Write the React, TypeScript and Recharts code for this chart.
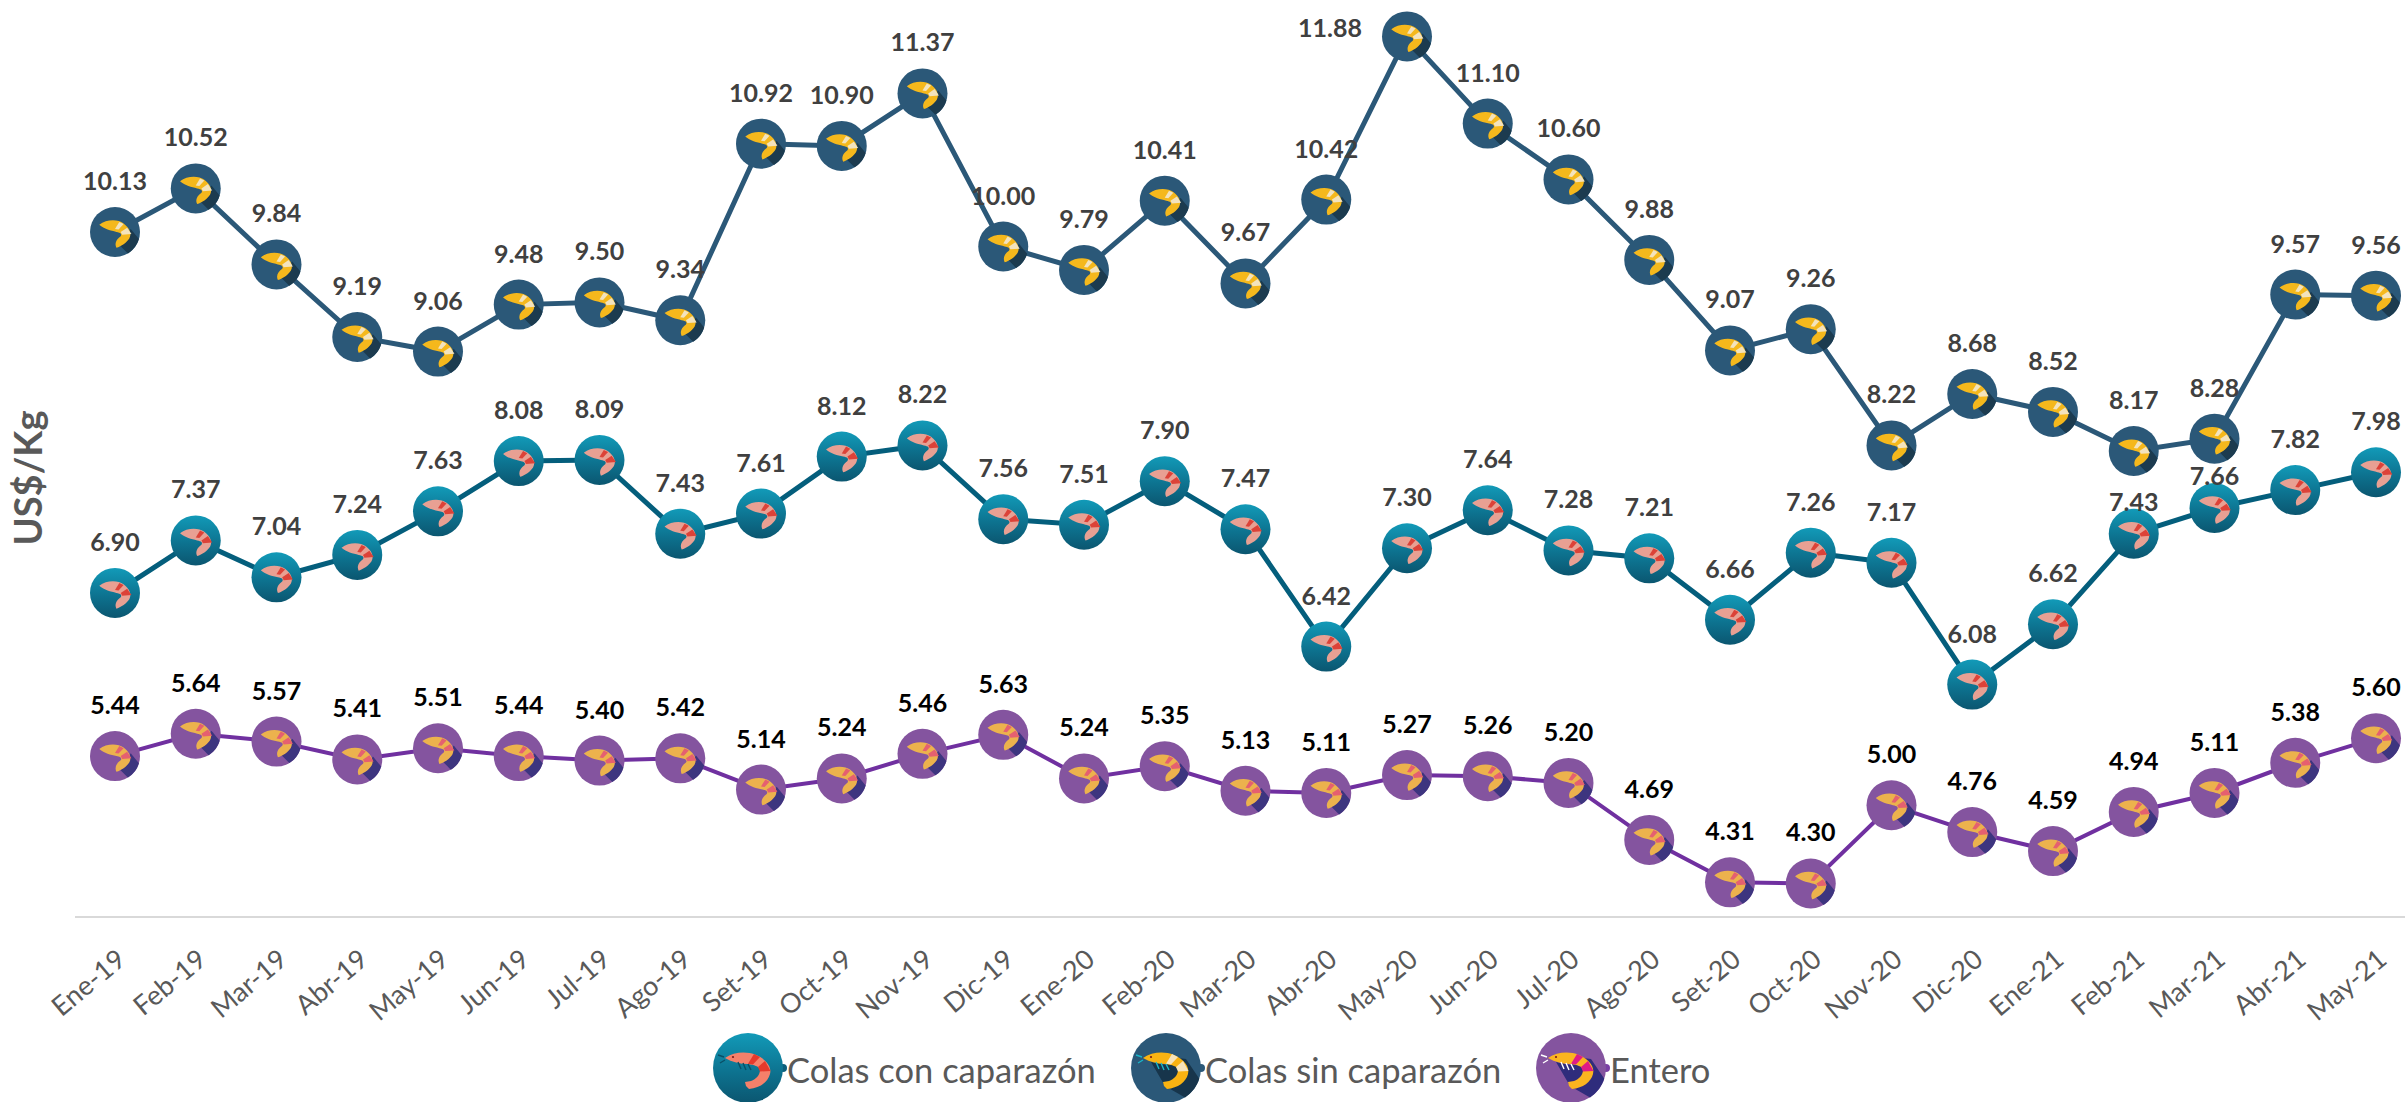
import { Legend, Line, LineChart, XAxis, YAxis } from "recharts";

const months = [
  "Ene-19", "Feb-19", "Mar-19", "Abr-19", "May-19", "Jun-19", "Jul-19", "Ago-19", "Set-19", "Oct-19",
  "Nov-19", "Dic-19", "Ene-20", "Feb-20", "Mar-20", "Abr-20", "May-20", "Jun-20", "Jul-20", "Ago-20",
  "Set-20", "Oct-20", "Nov-20", "Dic-20", "Ene-21", "Feb-21", "Mar-21", "Abr-21", "May-21",
];
const colasCon = [
  6.9, 7.37, 7.04, 7.24, 7.63, 8.08, 8.09, 7.43, 7.61, 8.12, 8.22, 7.56, 7.51, 7.9, 7.47,
  6.42, 7.3, 7.64, 7.28, 7.21, 6.66, 7.26, 7.17, 6.08, 6.62, 7.43, 7.66, 7.82, 7.98,
];
const colasSin = [
  10.13, 10.52, 9.84, 9.19, 9.06, 9.48, 9.5, 9.34, 10.92, 10.9, 11.37, 10.0, 9.79, 10.41, 9.67,
  10.42, 11.88, 11.1, 10.6, 9.88, 9.07, 9.26, 8.22, 8.68, 8.52, 8.17, 8.28, 9.57, 9.56,
];
const entero = [
  5.44, 5.64, 5.57, 5.41, 5.51, 5.44, 5.4, 5.42, 5.14, 5.24, 5.46, 5.63, 5.24, 5.35, 5.13,
  5.11, 5.27, 5.26, 5.2, 4.69, 4.31, 4.3, 5.0, 4.76, 4.59, 4.94, 5.11, 5.38, 5.6,
];

const data = months.map((month, i) => ({ month, con: colasCon[i], sin: colasSin[i], entero: entero[i] }));

const FONT = "Lato, sans-serif";

const palettes: Record<string, any> = {
  "Colas con caparazón": {
    bg: "url(#bgCon)", dot: "#0c5f7c", body: "#f5806a", band: "#e5392c", shadow: null, leg: "#0a4f66",
    smallBody: "#e8a093", smallBand: "#dc4338", smallShadow: null,
  },
  "Colas sin caparazón": {
    bg: "#2b5878", dot: "#2b5878", body: "#f9b312", band: "#f7e4ba", shadow: "#17354b", leg: "#19b6c9",
    smallBody: "#f5b81c", smallBand: "#f3e3bd", smallShadow: "#1a3a50",
  },
  Entero: {
    bg: "#84549f", dot: "#7a3fa5", body: "#fbb420", band: "#df1b86", shadow: "#2f2c7c", leg: "#ffffff",
    smallBody: "#ecb24e", smallBand: "#e5606f", smallShadow: "#3c347f",
  },
};
const legendLeft = [713, 1131, 1536];
// labels Excel had been dragged away from the default spot: [dx, dy]
const nudgeCon: Record<number, number[]> = { 25: [0, 19], 26: [0, 19] };
const nudgeSin: Record<number, number[]> = { 16: [-77, 43] };

const SHADOW = "M-15,-6 L0,-3 L12,-10 L20,-9 L33.3,10.8 A35 35 0 0 1 19,29.4 L-1,18 Z";
const BODY =
  "M-23,-10 C-14,-16 -2,-17 8,-13 C18,-9 24,-1 22,6 C20,14 12,20 1,21 L-2,18 L-3,14 L3,13 C8,11 12,7 12,2 C11,-2 6,-3 0,-4 C-8,-4 -16,-6 -23,-10 Z";
const SMALL_BODY =
  "M-22,-10 C-12,-18 4,-18 12,-12 C20,-6 24,2 20,9 C16,15 9,20 2,22 C-1,16 2,10 8,6 C10,3 8,1 2,0 C-6,-2 -15,-4 -22,-10 Z";
const BAND_A = "M6,-14 L12,-11 L5,-3.5 L0,-4.2 Z";
const BAND_B = "M17,-7 L22.5,3 L12,3.5 L10,-1 Z";

// the prawn is drawn on a circle of radius 35
function Prawn({ cx, cy, name }: any) {
  const p = palettes[name];
  return (
    <g transform={`translate(${cx},${cy})`}>
      <circle r={35} fill={p.bg} />
      {p.shadow && <path d={SHADOW} fill={p.shadow} />}
      <path d={BODY} fill={p.body} />
      <path d={BAND_A} fill={p.band} />
      <path d={BAND_B} fill={p.band} />
      <path d="M-24,-11 L-30,-13 M-23,-8 L-28,-5 M-10,-6 L-7,1 M-5,-5 L-2,2 M0,-4 L3,2" stroke={p.leg} strokeWidth={1.4} fill="none" />
      <circle cx={-15} cy={-11} r={1.1} fill="#7a1b1b" />
    </g>
  );
}

// smaller and washed out in the markers, no legs or antennas
function Marker({ cx, cy, name }: any) {
  const p = palettes[name];
  return (
    <g transform={`translate(${cx},${cy}) scale(${25 / 35})`}>
      <circle r={35} fill={p.bg} />
      <g filter="url(#soft)">
        {p.smallShadow && (
          <path d="M6,18 L22,-4 L33.5,10 A35 35 0 0 1 18,30 Z" fill={p.smallShadow} />
        )}
        <path d={SMALL_BODY} fill={p.smallBody} />
        <path d={BAND_A} fill={p.smallBand} />
        <path d="M17,-6 L23,3 L10,4 L8,0 Z" fill={p.smallBand} />
      </g>
    </g>
  );
}

function ValueLabel({ x, y, value, index, color, nudge }: any) {
  const [dx, dy] = (nudge && nudge[index]) || [0, 0];
  return (
    <text x={x + dx} y={y - 51 + dy} dy="0.36em" textAnchor="middle" fontFamily={FONT} fontWeight={700} fontSize={25} fill={color}>
      {value.toFixed(2)}
    </text>
  );
}

function MonthTick({ x, y, payload }: any) {
  return (
    <text
      x={x + 8}
      y={y + 32}
      textAnchor="end"
      dominantBaseline="middle"
      fontFamily={FONT}
      fontSize={27}
      fill="#595959"
      transform={`rotate(-40 ${x + 8} ${y + 32})`}
    >
      {payload.value}
    </text>
  );
}

function LegendRow({ payload }: any) {
  const items = (payload || []).filter((item: any) => palettes[item.value]);
  return (
    <div style={{ position: "relative", width: 2405, height: 72 }}>
      {items.map((item: any, i: number) => {
        const p = palettes[item.value];
        return (
          <div key={item.value} style={{ position: "absolute", left: legendLeft[i], top: 0, display: "flex", alignItems: "center", height: 72 }}>
            <svg width={74} height={72} style={{ display: "block" }}>
              <circle cx={70} cy={35} r={4} fill={p.dot} />
              <Prawn cx={35} cy={35} name={item.value} />
            </svg>
            <span style={{ fontFamily: FONT, fontSize: 34.5, color: "#595959" }}>{item.value}</span>
          </div>
        );
      })}
    </div>
  );
}

function AxisTitle() {
  return (
    <text x={32} y={478} textAnchor="middle" dominantBaseline="middle" fontFamily={FONT} fontWeight={700} fontSize={38} fill="#595959" transform="rotate(-90 32 478)">
      US$/Kg
    </text>
  );
}

export default function App() {
  return (
    <div style={{ position: "absolute", left: 0, top: 0 }}>
      <LineChart width={2405} height={1102} data={data} margin={{ top: 23, right: 0, bottom: 0, left: 0 }}>
        <defs>
          <linearGradient id="bgCon" x1="0" y1="0" x2="0" y2="1">
            <stop offset="0" stopColor="#129ab8" />
            <stop offset="0.55" stopColor="#0d7390" />
            <stop offset="1" stopColor="#0b5670" />
          </linearGradient>
          <filter id="soft" x="-10%" y="-10%" width="120%" height="120%">
            <feGaussianBlur stdDeviation="0.8" />
          </filter>
        </defs>
        <XAxis
          dataKey="month"
          interval={0}
          height={185}
          padding={{ left: 40, right: 29 }}
          axisLine={{ stroke: "#d9d9d9", strokeWidth: 2 }}
          tickLine={false}
          tick={<MonthTick />}
        />
        <YAxis width={75} domain={[4, 12]} tick={false} tickLine={false} axisLine={false} label={<AxisTitle />} />
        <Legend layout="horizontal" verticalAlign="middle" content={<LegendRow />} wrapperStyle={{ position: "absolute", left: 0, top: 1033, width: 2405, height: 72 }} />

        {/* labels first so the markers sit over them, like 7.66 */}
        <Line dataKey="con" legendType="none" stroke="none" dot={false} isAnimationActive={false} label={(p: any) => <ValueLabel {...p} color="#404040" nudge={nudgeCon} />} />
        <Line dataKey="sin" legendType="none" stroke="none" dot={false} isAnimationActive={false} label={(p: any) => <ValueLabel {...p} color="#404040" nudge={nudgeSin} />} />
        <Line dataKey="entero" legendType="none" stroke="none" dot={false} isAnimationActive={false} label={(p: any) => <ValueLabel {...p} color="#000000" />} />

        <Line
          name="Colas con caparazón"
          dataKey="con"
          stroke="#045e7c"
          strokeWidth={5}
          isAnimationActive={false}
          dot={(p: any) => <Marker key={p.index} cx={p.cx} cy={p.cy} name="Colas con caparazón" />}
        />
        <Line
          name="Colas sin caparazón"
          dataKey="sin"
          stroke="#2b5878"
          strokeWidth={5}
          isAnimationActive={false}
          dot={(p: any) => <Marker key={p.index} cx={p.cx} cy={p.cy} name="Colas sin caparazón" />}
        />
        <Line
          name="Entero"
          dataKey="entero"
          stroke="#7030a0"
          strokeWidth={4}
          isAnimationActive={false}
          dot={(p: any) => <Marker key={p.index} cx={p.cx} cy={p.cy} name="Entero" />}
        />
      </LineChart>
    </div>
  );
}
